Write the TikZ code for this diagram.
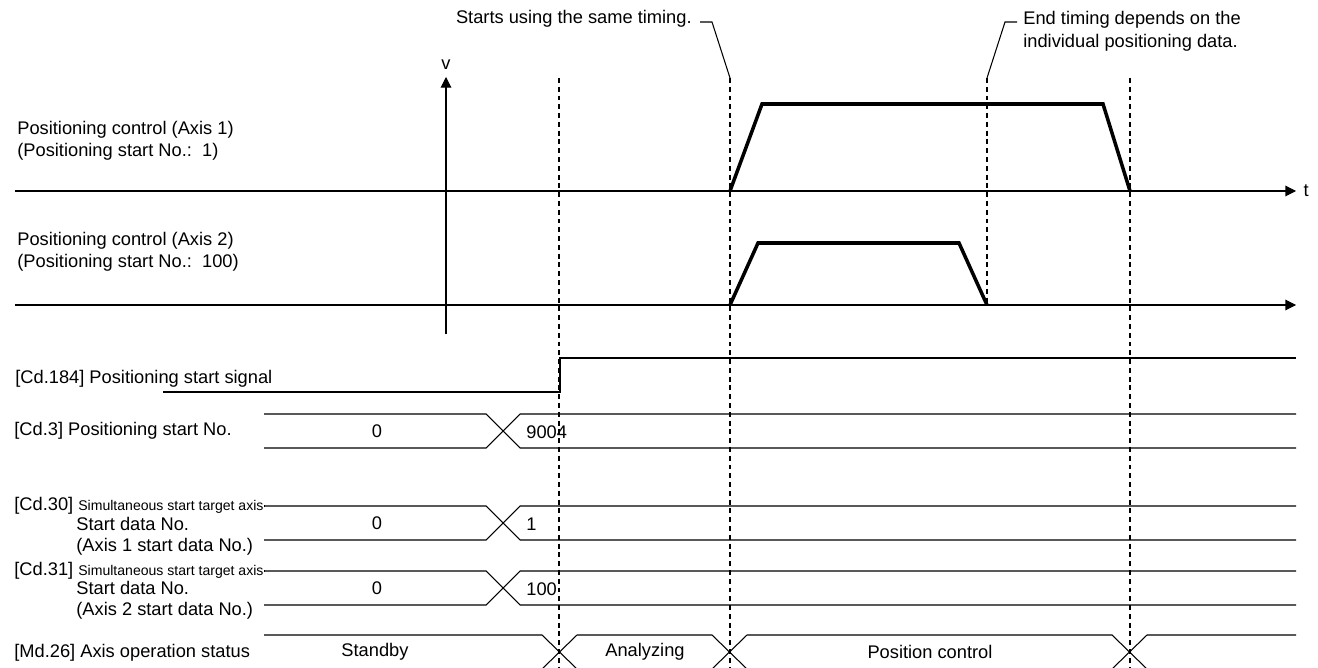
\documentclass[tikz,border=0pt]{standalone}
\usepackage{fontspec}
\setmainfont{Liberation Sans}
\usetikzlibrary{positioning, arrows.meta}

\begin{document}
\begin{tikzpicture}[x=0.02cm, y=-0.02cm,
        every node/.style={font=\fontsize{10.4}{12.5}\selectfont, inner sep=0pt},
        lbl/.style={anchor=west},
        sig/.style={line width=0.6pt},
        prof/.style={line width=2pt, line join=miter},
        guide/.style={line width=0.6pt, dash pattern=on 2.8pt off 2.2pt},
        axarr/.style={sig, -{Triangle[length=6pt, width=6pt]}}]

      \useasboundingbox (0,0) rectangle (1318,668);

      \coordinate (vtop) at (446,77);
      \draw[axarr] (446,334) -- (vtop);
      \node[above=4pt of vtop] (v) {v};
      \draw[axarr] (15,191) -- (1296,191) node[right=4pt] (t) {t};
      \draw[axarr] (15,305) -- (1296,305);

      \draw[prof] (730,191) -- (762,104) -- (1103,104) -- (1130,191);
      \draw[prof] (730,305) -- (758,243) -- (959,243) -- (987,305);

      \foreach \x/\n/\e in {559/d1/668, 730/d2/668, 987/d3/305, 1130/d4/668} {
        \coordinate (\n) at (\x,78);
        \draw[guide] (\n) -- (\x,\e);
      }

      \node[anchor=east] (same) at (692,19) {Starts using the same timing.};
      \draw[sig] (same.east) ++(8,3) -- ++(12,0) -- (d2);
      \node[lbl] (endt) at (1023,20) {End timing depends on the};
      \node[lbl] (endt2) at (1023,43) {individual positioning data.};
      \draw[sig] (endt.west) ++(-6,2) -- ++(-12,0) -- (d3);

      \node[lbl] (ax1a) at (17,130) {Positioning control (Axis 1)};
      \node[lbl] (ax1b) at (17,152) {(Positioning start No.:\ \ 1)};
      \node[lbl] (ax2a) at (17,241) {Positioning control (Axis 2)};
      \node[lbl] (ax2b) at (17,263) {(Positioning start No.:\ \ 100)};

      \node[lbl] (cd184) at (15,379) {[Cd.184] Positioning start signal};
      \draw[sig] (163,392) -- (560,392) -- (560,358) -- (1296,358);

      \node[lbl] (cd3) at (14,431) {[Cd.3] Positioning start No.};
      \node[lbl] (cd30) at (14,506)
        {[Cd.30] \fontsize{8}{9.5}\selectfont Simultaneous start target axis};
      \node[lbl] (cd30b) at (76,524) {Start data No.};
      \node[lbl] (cd30c) at (76,547) {(Axis 1 start data No.)};
      \node[lbl] (cd31) at (14,571)
        {[Cd.31] \fontsize{8}{9.5}\selectfont Simultaneous start target axis};
      \node[lbl] (cd31b) at (76,588) {Start data No.};
      \node[lbl] (cd31c) at (76,611) {(Axis 2 start data No.)};
      \draw[sig] (cd30.east) -- (264,506);
      \draw[sig] (cd31.east) -- (264,571);

      \foreach \y/\v/\nm in {414/9004/cd3, 506/1/cd30, 571/100/cd31} {
        \draw[sig] (264,\y) -- (486,\y) -- (520,\y+34) -- (1296,\y+34)
                   (264,\y+34) -- (486,\y+34) -- (520,\y) -- (1296,\y);
        \node (old\nm) at (377,\y+17) {0};
        \node[lbl] (new\nm) at (526,\y+18) {\v};
      }

      \node[lbl] (md26) at (14,653) {[Md.26] Axis operation status};
      \draw[sig] (264,635) -- (542,635) -- (577,669) -- (712,669) -- (747,635)
                 -- (1112,635) -- (1147,669) -- (1296,669)
                 (264,669) -- (542,669) -- (577,635) -- (712,635) -- (747,669)
                 -- (1112,669) -- (1147,635) -- (1296,635);
      \node (stby) at (375,652) {Standby};
      \node (anl) at (645,652) {Analyzing};
      \node (pctl) at (930,652) {Position control};
    \end{tikzpicture}
\end{document}
